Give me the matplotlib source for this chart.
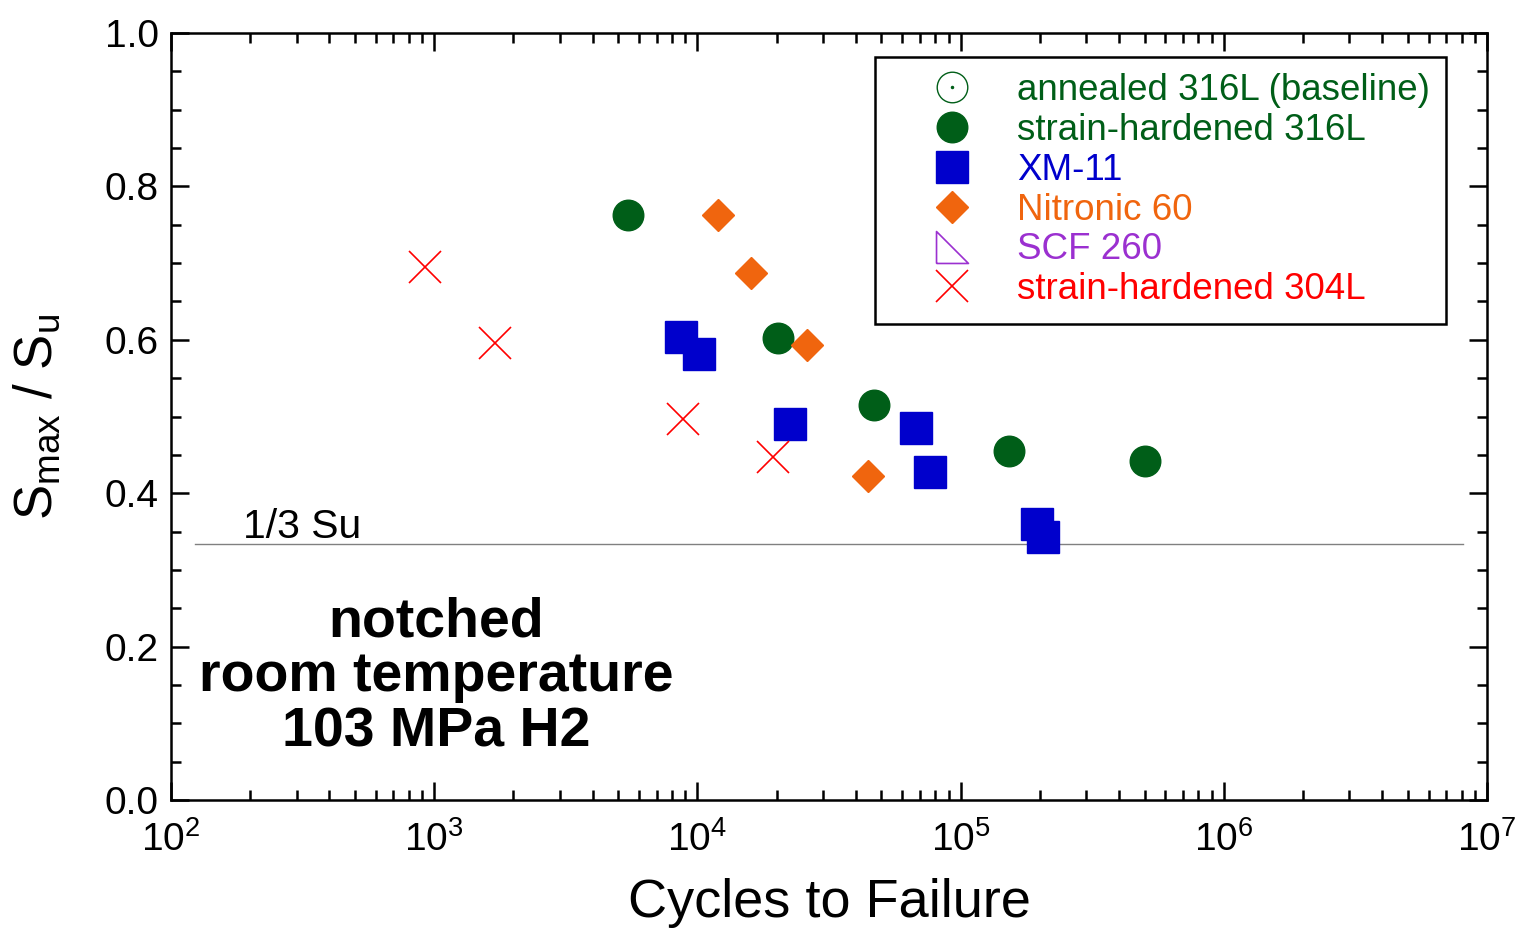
import matplotlib
matplotlib.use("Agg")
import matplotlib.pyplot as plt
from matplotlib.lines import Line2D
from matplotlib.ticker import LogLocator, MultipleLocator, FormatStrFormatter

plt.rcParams['font.family'] = ['Liberation Sans', 'DejaVu Sans']
plt.rcParams['mathtext.fontset'] = 'custom'
plt.rcParams['mathtext.rm'] = 'Liberation Sans'
plt.rcParams['mathtext.it'] = 'Liberation Sans:italic'
plt.rcParams['mathtext.bf'] = 'Liberation Sans:bold'

# data
sh316_cycles = [5450, 20200, 46900, 152700, 502000]
sh316_ratio = [0.763, 0.602, 0.515, 0.455, 0.442]

xm11_cycles = [8660, 10140, 22480, 67700, 76500, 195000, 205600]
xm11_ratio = [0.604, 0.581, 0.490, 0.485, 0.428, 0.360, 0.343]

nit60_cycles = [11970, 15990, 26100, 44500]
nit60_ratio = [0.763, 0.687, 0.593, 0.422]

sh304_cycles = [923, 1702, 8820, 19380]
sh304_ratio = [0.695, 0.596, 0.497, 0.447]

third_su = 1.0 / 3.0
line_span = [123, 8.1e6]

GREEN = '#005E18'
BLUE = '#0000CC'
ORANGE = '#F0650E'
PURPLE = '#9B30D0'
RED = '#FF0000'

fig = plt.figure(figsize=(15.2, 9.3), dpi=100)
ax = fig.add_axes([0.1125, 0.1398, 0.8658, 0.8247])

ax.plot(line_span, [third_su, third_su], color='#808080', lw=1.0, zorder=1)
ax.text(188, 0.342, '1/3 Su', fontsize=29.5, ha='left', va='baseline')

ax.plot(sh316_cycles, sh316_ratio, 'o', color=GREEN, ms=22, mec=GREEN, ls='none', zorder=3)
ax.plot(xm11_cycles, xm11_ratio, 's', color=BLUE, ms=23, mec=BLUE, ls='none', zorder=3)
ax.plot(nit60_cycles, nit60_ratio, 'D', color=ORANGE, ms=16, mec=ORANGE, ls='none', zorder=3)
ax.plot(sh304_cycles, sh304_ratio, 'x', color=RED, ms=23, mew=1.2, ls='none', zorder=3)

ax.text(0.2017, 0.160, 'notched\nroom temperature\n103 MPa H2', transform=ax.transAxes,
        fontsize=40, fontweight='bold', ha='center', va='center', linespacing=1.07)

ax.set_xscale('log')
ax.set_xlim(1e2, 1e7)
ax.set_ylim(0, 1.0)
ax.xaxis.set_major_locator(LogLocator(base=10, numticks=10))
ax.xaxis.set_minor_locator(LogLocator(base=10, subs=range(2, 10), numticks=20))
ax.yaxis.set_major_locator(MultipleLocator(0.2))
ax.yaxis.set_minor_locator(MultipleLocator(0.05))
ax.yaxis.set_major_formatter(FormatStrFormatter('%.1f'))

ax.tick_params(which='both', direction='in', top=True, right=True, width=1.8)
ax.tick_params(which='major', length=13, labelsize=28)
ax.tick_params(axis='y', which='major', pad=9)
ax.tick_params(axis='x', which='major', pad=15)
ax.tick_params(which='minor', length=7)
for s in ax.spines.values():
    s.set_linewidth(1.8)

ax.set_xlabel('Cycles to Failure', fontsize=39, labelpad=14)
ax.set_ylabel(r'S$_{\mathrm{max}}$ / S$_{\mathrm{u}}$', fontsize=38, labelpad=30)

# legend
tri = [(-0.5, -0.5), (-0.5, 0.5), (0.5, -0.5), (-0.5, -0.5)]
h_ann = (Line2D([], [], marker='o', ms=22, mfc='none', mec=GREEN, mew=1.0, ls='none'),
         Line2D([], [], marker='o', ms=1.5, color=GREEN, ls='none'))
h_sh316 = Line2D([], [], marker='o', ms=22, color=GREEN, ls='none')
h_xm = Line2D([], [], marker='s', ms=23, color=BLUE, ls='none')
h_nit = Line2D([], [], marker='D', ms=16, color=ORANGE, ls='none')
h_scf = Line2D([], [], marker=tri, ms=23, mfc='none', mec=PURPLE, mew=1.2, ls='none')
h_304 = Line2D([], [], marker='x', ms=23, color=RED, mew=1.2, ls='none')

labels = ['annealed 316L (baseline)', 'strain-hardened 316L', 'XM-11',
          'Nitronic 60', 'SCF 260', 'strain-hardened 304L']
label_colors = [GREEN, GREEN, BLUE, ORANGE, PURPLE, RED]
leg = ax.legend([h_ann, h_sh316, h_xm, h_nit, h_scf, h_304], labels,
                loc='upper left', bbox_to_anchor=(0.535, 0.969),
                fontsize=26.5, frameon=True, fancybox=False, framealpha=1,
                edgecolor='black', borderpad=0.45, labelspacing=0.13,
                handlelength=3.3, handletextpad=0.1, borderaxespad=0)
leg.get_frame().set_linewidth(1.8)
for t, c in zip(leg.get_texts(), label_colors):
    t.set_color(c)

fig.savefig('out.png', dpi=100)
